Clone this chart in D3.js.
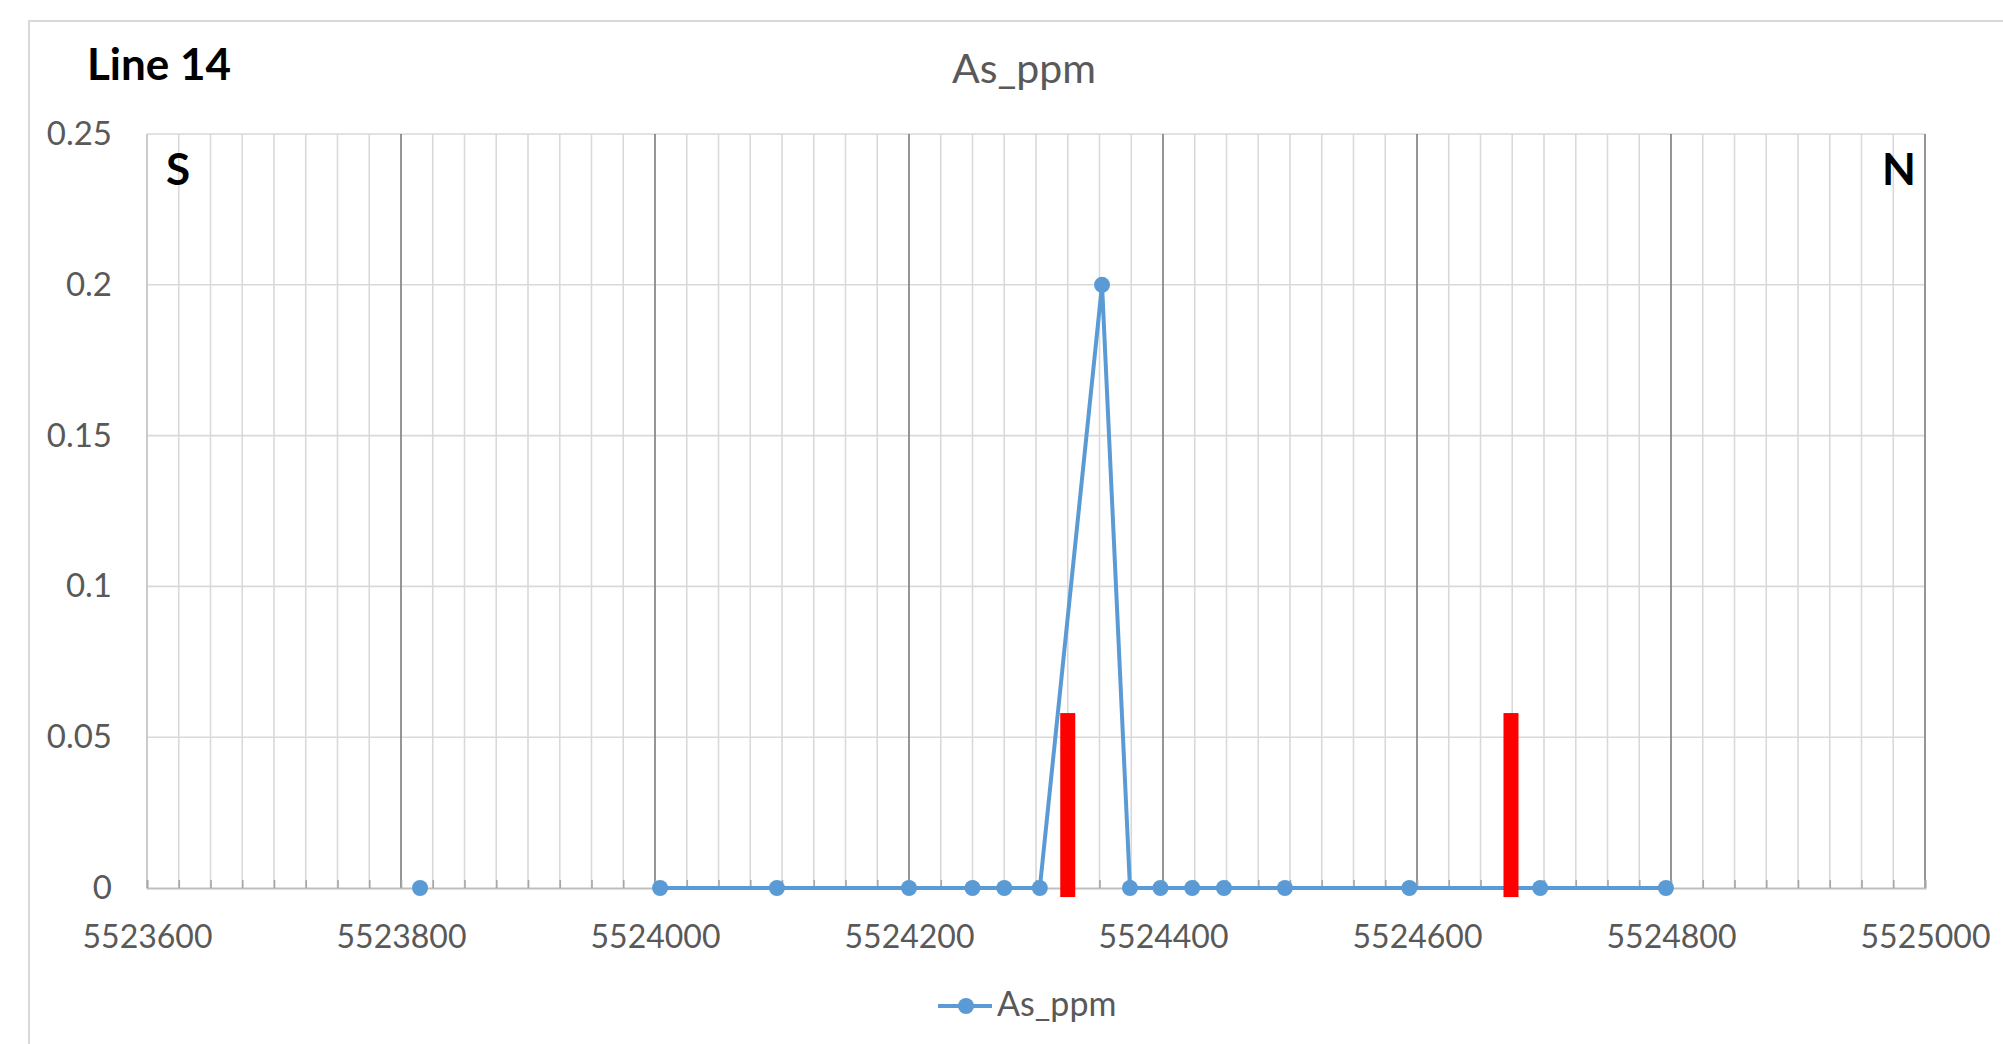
<!DOCTYPE html>
<html><head><meta charset="utf-8">
<script src="https://cdn.jsdelivr.net/npm/d3@7"></script>
<style>body{margin:0;background:#fff;}svg{display:block;}</style>
</head><body>
<script>
// ---- data ----
const seriesName = "As_ppm";
const northing = [5523815, null, 5524004, 5524096, 5524200, 5524250, 5524275, 5524303, 5524352, 5524374, 5524398, 5524423, 5524448, 5524496, 5524594, 5524697, 5524796];
const asPpm    = [0,       null, 0,       0,       0,       0,       0,       0,       0.2,     0,       0,       0,       0,       0,       0,       0,       0];
const markerX   = [5524325, 5524674];
const markerLo  = [-0.003, -0.003];
const markerHi  = [0.058, 0.058];
const xTicks = [5523600, 5523800, 5524000, 5524200, 5524400, 5524600, 5524800, 5525000];
const yTicks = [0, 0.05, 0.1, 0.15, 0.2, 0.25];

const W = 2003, H = 1044;
const plot = {l:147, r:1925, t:134, b:888};
const gray = "#595959";
const blue = "#5b9bd5";
const font = "Lato, 'Noto Sans', sans-serif";

const svg = d3.select("body").append("svg").attr("width", W).attr("height", H);
svg.append("rect").attr("x",0).attr("y",0).attr("width",W).attr("height",H).attr("fill","#fff");
svg.append("rect").attr("x",29).attr("y",21).attr("width",2100).attr("height",1200)
  .attr("fill","#fff").attr("stroke","#d9d9d9").attr("stroke-width",2);

const x = d3.scaleLinear().domain([5523600, 5525000]).range([plot.l, plot.r]);
const y = d3.scaleLinear().domain([0, 0.25]).range([plot.b, plot.t]);

const g = svg.append("g");
const minor = d3.range(5523600, 5525001, 25).filter(v => v % 200 !== 0);
g.selectAll(".minor").data(minor).join("line")
  .attr("x1", d => x(d)).attr("x2", d => x(d)).attr("y1", plot.t).attr("y2", plot.b)
  .attr("stroke", "#d9d9d9").attr("stroke-width", 1.6);
g.selectAll(".hg").data(yTicks.filter(d => d > 0)).join("line")
  .attr("x1", plot.l).attr("x2", plot.r).attr("y1", d => y(d)).attr("y2", d => y(d))
  .attr("stroke", "#d9d9d9").attr("stroke-width", 1.6);
g.selectAll(".major").data(xTicks.slice(1)).join("line")
  .attr("x1", d => x(d)).attr("x2", d => x(d)).attr("y1", plot.t).attr("y2", plot.b)
  .attr("stroke", "#8a8a8a").attr("stroke-width", 1.8);
g.append("line").attr("x1", plot.l).attr("x2", plot.l).attr("y1", plot.t).attr("y2", plot.b)
  .attr("stroke", "#bfbfbf").attr("stroke-width", 1.6);

const xAxisG = svg.append("g").attr("transform", `translate(0,${plot.b})`)
  .call(d3.axisBottom(x).tickValues(d3.range(5523600, 5525001, 25)).tickSize(-8).tickFormat(""));
xAxisG.select(".domain").attr("stroke", "#bfbfbf").attr("stroke-width", 2);
xAxisG.selectAll(".tick line").attr("stroke", "#a6a6a6").attr("stroke-width", 1.6);

const xLab = svg.append("g").attr("transform", `translate(0,${plot.b})`)
  .call(d3.axisBottom(x).tickValues(xTicks).tickSize(0).tickPadding(37).tickFormat(d3.format("d")));
xLab.select(".domain").remove();
xLab.selectAll("text").attr("font-family", font).attr("font-size", 32).attr("fill", gray);

const yLab = svg.append("g").attr("transform", `translate(${plot.l},0)`)
  .call(d3.axisLeft(y).tickValues(yTicks).tickSize(0).tickPadding(35).tickFormat(d => d === 0 ? "0" : String(+d.toFixed(2))));
yLab.select(".domain").remove();
yLab.selectAll("text").attr("font-family", font).attr("font-size", 33).attr("fill", gray);

const pts = northing.map((n, i) => ({x: n, y: asPpm[i]}));
const line = d3.line().defined(d => d.x !== null && d.y !== null).x(d => x(d.x)).y(d => y(d.y));
svg.append("path").datum(pts).attr("d", line).attr("fill", "none")
  .attr("stroke", blue).attr("stroke-width", 4).attr("stroke-linejoin", "round");

const bars = markerX.map((v, i) => ({x: v, lo: markerLo[i], hi: markerHi[i]}));
svg.selectAll(".rb").data(bars).join("rect")
  .attr("x", d => x(d.x) - 7.5).attr("width", 15)
  .attr("y", d => y(d.hi)).attr("height", d => y(d.lo) - y(d.hi))
  .attr("fill", "#ff0000");

svg.selectAll(".pt").data(pts.filter(d => d.x !== null)).join("circle")
  .attr("cx", d => x(d.x)).attr("cy", d => y(d.y)).attr("r", 8).attr("fill", blue);

svg.append("text").attr("x", 1024).attr("y", 83).attr("text-anchor", "middle")
  .attr("font-family", font).attr("font-size", 41).attr("fill", gray).text(seriesName);
svg.append("text").attr("x", 87).attr("y", 80).attr("font-family", font).attr("font-weight", "bold")
  .attr("font-size", 44).attr("fill", "#000").text("Line 14");
svg.append("text").attr("x", 178).attr("y", 185).attr("text-anchor", "middle").attr("font-family", font)
  .attr("font-weight", "bold").attr("font-size", 44).attr("fill", "#000").text("S");
svg.append("text").attr("x", 1899).attr("y", 185).attr("text-anchor", "middle").attr("font-family", font)
  .attr("font-weight", "bold").attr("font-size", 44).attr("fill", "#000").text("N");

const lg = svg.append("g");
lg.append("line").attr("x1", 938).attr("x2", 992).attr("y1", 1006).attr("y2", 1006)
  .attr("stroke", blue).attr("stroke-width", 4);
lg.append("circle").attr("cx", 966).attr("cy", 1006).attr("r", 8).attr("fill", blue);
lg.append("text").attr("x", 997).attr("y", 1016).attr("font-family", font).attr("font-size", 34)
  .attr("fill", gray).text(seriesName);
</script>
</body></html>
